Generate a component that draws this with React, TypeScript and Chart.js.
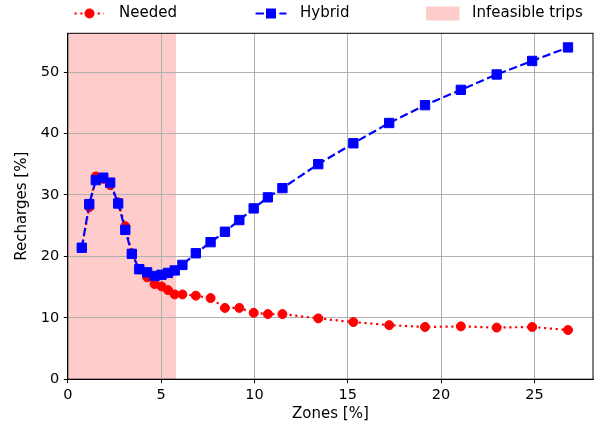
import React, { useEffect, useRef } from "react";
import { Chart, registerables } from "chart.js";

Chart.register(...registerables);

const zones = [0.75, 1.15, 1.5, 1.9, 2.27, 2.7, 3.08, 3.43, 3.83, 4.25, 4.65, 5.02, 5.37, 5.73, 6.14, 6.86, 7.65, 8.42, 9.19, 9.96, 10.72, 11.5, 13.42, 15.3, 17.22, 19.14, 21.06, 22.98, 24.88, 26.8];
const hybrid = [21.4, 28.5, 32.4, 32.8, 32.0, 28.6, 24.3, 20.4, 17.9, 17.4, 16.8, 17.0, 17.3, 17.7, 18.6, 20.5, 22.3, 24.0, 25.9, 27.8, 29.6, 31.1, 35.0, 38.4, 41.7, 44.6, 47.1, 49.6, 51.8, 54.0];
const needed = [21.4, 28.0, 33.0, 32.6, 31.6, 28.8, 24.9, 20.5, 17.9, 16.6, 15.5, 15.1, 14.5, 13.8, 13.8, 13.6, 13.2, 11.6, 11.6, 10.8, 10.6, 10.6, 9.9, 9.3, 8.8, 8.5, 8.6, 8.4, 8.5, 8.0];
const infeasibleSpan = [0, 5.8];
const legendLabels = ["Needed", "Hybrid", "Infeasible trips"];

const FONT = "'DejaVu Sans', sans-serif";
const PINK = "rgba(255,0,0,0.2)";

export default function App() {
  const ref = useRef<HTMLCanvasElement | null>(null);
  useEffect(() => {
    const canvas = ref.current!;
    const spanPlugin = {
      id: "span",
      beforeDraw(chart: any) {
        const { ctx, chartArea, scales } = chart;
        const x0 = scales.x.getPixelForValue(infeasibleSpan[0]);
        const x1 = scales.x.getPixelForValue(infeasibleSpan[1]);
        ctx.save();
        ctx.fillStyle = PINK;
        ctx.fillRect(x0, chartArea.top, x1 - x0, chartArea.bottom - chartArea.top);
        ctx.restore();
      },
      afterDraw(chart: any) {
        const { ctx, chartArea } = chart;
        ctx.save();
        ctx.strokeStyle = "#000";
        ctx.lineWidth = 1;
        ctx.strokeRect(chartArea.left, chartArea.top, chartArea.right - chartArea.left, chartArea.bottom - chartArea.top);
        // legend
        const ly = 13.5;
        ctx.lineWidth = 2.2;
        ctx.lineCap = "butt";
        ctx.strokeStyle = "red";
        ctx.setLineDash([2.2, 3.6]);
        ctx.beginPath();
        ctx.moveTo(74.5, ly);
        ctx.lineTo(104, ly);
        ctx.stroke();
        ctx.setLineDash([]);
        ctx.fillStyle = "red";
        ctx.beginPath();
        ctx.arc(89.5, ly, 5, 0, Math.PI * 2);
        ctx.fill();
        ctx.strokeStyle = "blue";
        ctx.setLineDash([8.3, 3.6]);
        ctx.beginPath();
        ctx.moveTo(255.6, ly);
        ctx.lineTo(286.5, ly);
        ctx.stroke();
        ctx.setLineDash([]);
        ctx.fillStyle = "blue";
        ctx.fillRect(271 - 5, ly - 5, 10, 10);
        ctx.fillStyle = PINK;
        ctx.fillRect(426, 6.5, 33.5, 14);
        ctx.fillStyle = "#000";
        ctx.font = `15px ${FONT}`;
        ctx.textBaseline = "middle";
        ctx.textAlign = "left";
        ctx.fillText(legendLabels[0], 119, ly);
        ctx.fillText(legendLabels[1], 300, ly);
        ctx.fillText(legendLabels[2], 472, ly);
        ctx.restore();
      },
    };
    const chart = new Chart(canvas, {
      type: "line",
      data: {
        datasets: [
          {
            label: legendLabels[0],
            data: zones.map((x, i) => ({ x, y: needed[i] })),
            borderColor: "red",
            backgroundColor: "red",
            borderWidth: 2.2,
            borderDash: [2.2, 3.6],
            pointStyle: "circle",
            pointRadius: 4.5,
            pointBorderWidth: 1,
            pointBackgroundColor: "red",
            pointBorderColor: "red",
            tension: 0,
            order: 2,
          },
          {
            label: legendLabels[1],
            data: zones.map((x, i) => ({ x, y: hybrid[i] })),
            borderColor: "blue",
            backgroundColor: "blue",
            borderWidth: 2.2,
            borderDash: [8.3, 3.6],
            pointStyle: "rect",
            pointRadius: 6.6,
            pointBorderWidth: 1,
            pointBackgroundColor: "blue",
            pointBorderColor: "blue",
            tension: 0,
            order: 1,
          },
        ],
      },
      options: {
        responsive: false,
        animation: false,
        layout: { padding: { left: 0, top: 33.3, right: 9, bottom: 0 } },
        plugins: { legend: { display: false }, tooltip: { enabled: false } },
        scales: {
          x: {
            type: "linear",
            min: 0,
            max: 28.14,
            afterFit: (s: any) => {
              s.height = 52.8;
            },
            ticks: {
              stepSize: 5,
              includeBounds: false,
              color: "#000",
              font: { family: FONT, size: 14.5 },
              padding: 3,
              maxRotation: 0,
            },
            grid: { color: "#b0b0b0", lineWidth: 1, tickColor: "#000", tickLength: 4 },
            border: { display: true, color: "#000", width: 1 },
            title: {
              display: true,
              text: "Zones [%]",
              color: "#000",
              font: { family: FONT, size: 15 },
              padding: { top: 0, bottom: 9 },
            },
          },
          y: {
            type: "linear",
            min: 0,
            max: 56.3,
            afterFit: (s: any) => {
              s.width = 67.8;
            },
            ticks: {
              stepSize: 10,
              includeBounds: false,
              color: "#000",
              font: { family: FONT, size: 14.5 },
              padding: 4.5,
            },
            grid: { color: "#b0b0b0", lineWidth: 1, tickColor: "#000", tickLength: 4 },
            border: { display: true, color: "#000", width: 1 },
            title: {
              display: true,
              text: "Recharges [%]",
              color: "#000",
              font: { family: FONT, size: 15 },
              padding: { top: 13, bottom: 0 },
            },
          },
        },
      },
      plugins: [spanPlugin],
    } as any);
    return () => chart.destroy();
  }, []);
  return (
    <div style={{ position: "fixed", left: 0, top: 0, width: 602, height: 432, background: "#fff" }}>
      <canvas ref={ref} width={602} height={432} style={{ width: 602, height: 432, display: "block" }} />
    </div>
  );
}
